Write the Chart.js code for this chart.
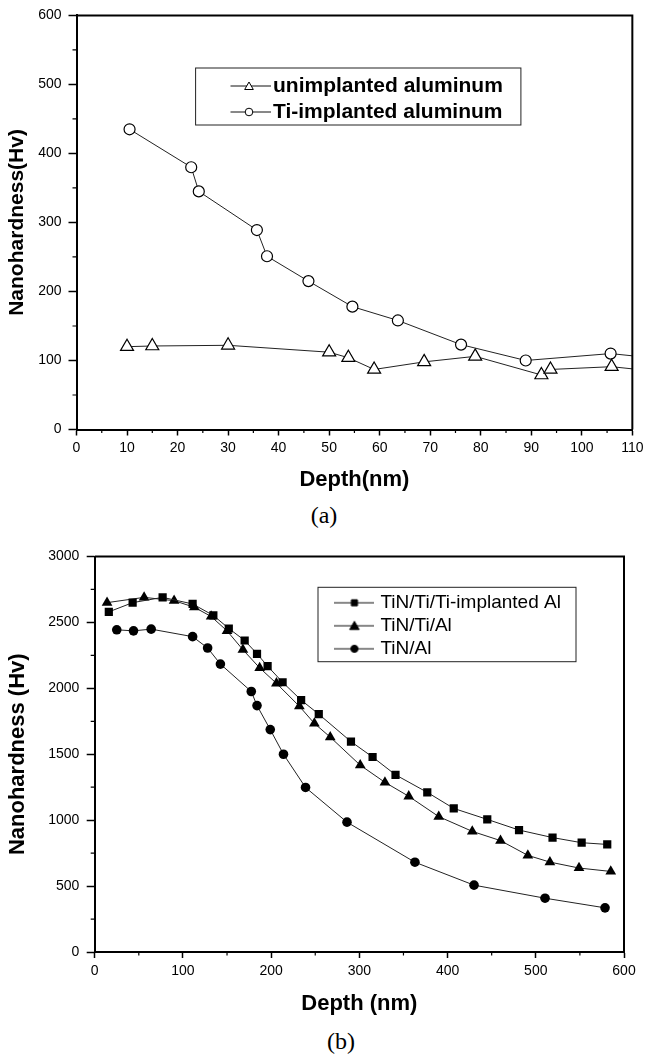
<!DOCTYPE html>
<html>
<head>
<meta charset="utf-8">
<script src="https://cdn.jsdelivr.net/npm/chart.js@4.4.1/dist/chart.umd.min.js"></script>
<style>
  body { margin: 0; background: #fff; width: 648px; height: 1057px; overflow: hidden; position: relative; }
  canvas { position: absolute; left: 0; }
  #chartA { top: 0; }
  #chartB { top: 540px; }
  .cap { position: absolute; left: 0; width: 648px; text-align: center; font: 24px "Liberation Serif", "Times New Roman", serif; line-height: 24px; color: #000; }
</style>
</head>
<body>
<canvas id="chartA" width="648" height="500"></canvas>
<div class="cap" style="top:503px; padding-left:20px; box-sizing:border-box; width:628px;">(a)</div>
<canvas id="chartB" width="648" height="480"></canvas>
<div class="cap" style="top:1029px; padding-left:34px; box-sizing:border-box; width:648px;">(b)</div>
<script>
// (a) unimplanted vs Ti-implanted aluminium
const depthUnimpl = [10, 15, 30, 50, 53.8, 58.9, 68.8, 78.9, 92, 93.8, 105.9, 115];
const hvUnimpl = [120, 121, 122, 112, 104, 87, 98, 106, 79, 87, 91, 84];
const depthTiImpl = [10.5, 22.7, 24.2, 35.7, 37.7, 45.9, 54.6, 63.6, 76.1, 88.9, 105.7, 115];
const hvTiImpl = [435, 380, 345, 289, 251, 215, 178, 158, 123, 100, 110, 103];
const labelsA = ["unimplanted aluminum", "Ti-implanted aluminum"];

// (b) TiN coatings
const depthTiNTiImpl = [16, 43, 77, 111, 134.5, 152, 170, 184, 196, 213, 234, 254, 290.5, 315, 341, 377, 407, 445, 481, 519, 552, 581];
const hvTiNTiImpl = [2580, 2650, 2690, 2640, 2553, 2454, 2363, 2262, 2168, 2046, 1911, 1804, 1596, 1479, 1344, 1211, 1089, 1006, 925, 868, 829, 816];
const depthTiNTi = [14, 56, 90, 113, 132, 150, 168, 187, 206, 232, 249, 267, 301, 329, 356, 390, 428, 460, 491, 516, 549, 585];
const hvTiNTi = [2650, 2690, 2665, 2615, 2545, 2436, 2293, 2155, 2038, 1864, 1734, 1630, 1417, 1287, 1181, 1027, 915, 845, 733, 682, 637, 611];
const depthTiN = [25, 44, 64, 111, 128, 142.5, 177.5, 184, 199, 214, 239, 286, 363, 430, 510.5, 578.5];
const hvTiN = [2444, 2436, 2449, 2392, 2306, 2184, 1976, 1869, 1687, 1500, 1248, 985, 681, 507, 408, 335];
const labelsB = ["TiN/Ti/Ti-implanted Al", "TiN/Ti/Al", "TiN/Al"];

Chart.defaults.font.family = "'Liberation Sans', Arial, sans-serif";
Chart.defaults.color = "#000";

const pts = (xs, ys) => xs.map((x, i) => ({ x: x, y: ys[i] }));

// line + marker picture for the legend
function legendIcon(style, radius, filled, width) {
  const c = document.createElement("canvas");
  c.width = width;
  c.height = 16;
  const g = c.getContext("2d");
  g.strokeStyle = "#111";
  g.lineWidth = 1;
  g.beginPath();
  g.moveTo(0, 8);
  g.lineTo(width, 8);
  g.stroke();
  g.fillStyle = filled ? "#000" : "#fff";
  g.strokeStyle = "#000";
  Chart.helpers.drawPoint(g, { pointStyle: style, radius: radius, borderWidth: 1, rotation: 0 }, width / 2, style === "triangle" ? 9 : 8);
  return c;
}

// top and right sides of the frame
const frame = {
  id: "frame",
  afterDraw(chart) {
    const { ctx, chartArea: a } = chart;
    ctx.save();
    ctx.strokeStyle = "#000";
    ctx.lineWidth = 2;
    ctx.beginPath();
    ctx.moveTo(a.left, a.top);
    ctx.lineTo(a.right, a.top);
    ctx.lineTo(a.right, a.bottom);
    ctx.stroke();
    ctx.restore();
  }
};

// half-step ticks
const minorTicks = {
  id: "minorTicks",
  afterDraw(chart, args, opts) {
    const { ctx } = chart;
    const x = chart.scales.x, y = chart.scales.y;
    ctx.save();
    ctx.strokeStyle = "#000";
    ctx.lineWidth = 1.2;
    ctx.beginPath();
    for (let v = x.min + opts.x / 2; v < x.max; v += opts.x) {
      const px = x.getPixelForValue(v);
      ctx.moveTo(px, x.top);
      ctx.lineTo(px, x.top + 3.5);
    }
    for (let v = y.min + opts.y / 2; v < y.max; v += opts.y) {
      const py = y.getPixelForValue(v);
      ctx.moveTo(y.right, py);
      ctx.lineTo(y.right - 4, py);
    }
    ctx.stroke();
    ctx.restore();
  }
};

// move the legend inside the plot and draw a box round it
const legendBox = {
  id: "legendBox",
  afterLayout(chart, args, opts) {
    const lg = chart.legend;
    const w = lg.width, h = lg.height;
    lg.left = opts.left;
    lg.top = opts.top;
    lg.right = opts.left + w;
    lg.bottom = opts.top + h;
  },
  afterDraw(chart, args, opts) {
    const { ctx } = chart;
    const b = opts.box;
    ctx.save();
    ctx.strokeStyle = "#222";
    ctx.lineWidth = 1;
    ctx.strokeRect(b[0], b[1], b[2], b[3]);
    ctx.restore();
  }
};

function axis(min, max, step, title, titleSize, tickLen, tickPad, titlePad, fit) {
  return {
    type: "linear",
    min: min,
    max: max,
    border: { color: "#000", width: 2 },
    grid: { drawOnChartArea: false, tickLength: tickLen, tickColor: "#000", tickWidth: 1.5 },
    ticks: {
      stepSize: step, color: "#000", font: { size: 14 }, padding: tickPad,
      maxRotation: 0, autoSkip: false, callback: v => String(v)
    },
    title: { display: true, text: title, color: "#000", font: { size: titleSize, weight: "bold" }, padding: titlePad },
    afterFit: fit
  };
}

const iconsA = [legendIcon("triangle", 5, false, 44), legendIcon("circle", 3.8, false, 44)];

new Chart(document.getElementById("chartA"), {
  type: "line",
  data: {
    datasets: [
      {
        label: labelsA[0],
        data: pts(depthUnimpl, hvUnimpl),
        borderColor: "#222",
        borderWidth: 1,
        pointStyle: "triangle",
        pointRadius: 7.5,
        pointBackgroundColor: "#fff",
        pointBorderColor: "#000",
        pointBorderWidth: 1.2
      },
      {
        label: labelsA[1],
        data: pts(depthTiImpl, hvTiImpl),
        borderColor: "#222",
        borderWidth: 1,
        pointStyle: "circle",
        pointRadius: 5.5,
        pointBackgroundColor: "#fff",
        pointBorderColor: "#000",
        pointBorderWidth: 1.2
      }
    ]
  },
  options: {
    responsive: false,
    animation: false,
    layout: { padding: { left: 0, right: 11.3, top: 14, bottom: 0 } },
    scales: {
      x: axis(0, 110, 10, "Depth(nm)", 22, 6, 4.5, { top: 4, bottom: 7 }, s => { s.height = 70.5; }),
      y: axis(0, 600, 100, "Nanohardness(Hv)", 21, 8, 7, { top: 5, bottom: 4 }, s => { s.width = 76.5; })
    },
    plugins: {
      tooltip: { enabled: false },
      legend: {
        position: "chartArea",
        align: "start",
        labels: {
          usePointStyle: true,
          pointStyleWidth: 27,
          padding: 5,
          color: "#000",
          font: { size: 21, weight: "bold" },
          generateLabels: chart => chart.data.datasets.map((ds, i) => ({
            text: ds.label, pointStyle: iconsA[i], datasetIndex: i, hidden: false,
            fillStyle: "#000", strokeStyle: "#000", lineWidth: 0, fontColor: "#000"
          }))
        }
      },
      minorTicks: { x: 10, y: 100 },
      legendBox: { left: 230.5, top: 70.5, box: [195.6, 68, 325.3, 57] }
    }
  },
  plugins: [frame, minorTicks, legendBox]
});

const iconsB = [legendIcon("rect", 4.3, true, 40), legendIcon("triangle", 5.5, true, 40), legendIcon("circle", 3.6, true, 40)];

new Chart(document.getElementById("chartB"), {
  type: "line",
  data: {
    datasets: [
      {
        label: labelsB[0],
        data: pts(depthTiNTiImpl, hvTiNTiImpl),
        borderColor: "#222",
        borderWidth: 1,
        pointStyle: "rect",
        pointRadius: 5.8,
        pointBackgroundColor: "#000",
        pointBorderColor: "#000",
        pointBorderWidth: 0
      },
      {
        label: labelsB[1],
        data: pts(depthTiNTi, hvTiNTi),
        borderColor: "#222",
        borderWidth: 1,
        pointStyle: "triangle",
        pointRadius: 6.2,
        pointBackgroundColor: "#000",
        pointBorderColor: "#000",
        pointBorderWidth: 0
      },
      {
        label: labelsB[2],
        data: pts(depthTiN, hvTiN),
        borderColor: "#222",
        borderWidth: 1,
        pointStyle: "circle",
        pointRadius: 4.8,
        pointBackgroundColor: "#000",
        pointBorderColor: "#000",
        pointBorderWidth: 0
      }
    ]
  },
  options: {
    responsive: false,
    animation: false,
    layout: { padding: { left: 0, right: 24, top: 16.5, bottom: 0 } },
    scales: {
      x: axis(0, 600, 100, "Depth (nm)", 22, 6, 4.6, { top: 4, bottom: 3 }, s => { s.height = 68; }),
      y: axis(0, 3000, 500, "Nanohardness (Hv)", 22, 8, 7.4, { top: 4.8, bottom: 4 }, s => { s.width = 94.7; })
    },
    plugins: {
      tooltip: { enabled: false },
      legend: {
        position: "chartArea",
        align: "start",
        labels: {
          usePointStyle: true,
          pointStyleWidth: 33,
          padding: 4,
          color: "#000",
          font: { size: 19 },
          generateLabels: chart => chart.data.datasets.map((ds, i) => ({
            text: ds.label, pointStyle: iconsB[i], datasetIndex: i, hidden: false,
            fillStyle: "#000", strokeStyle: "#000", lineWidth: 0, fontColor: "#000"
          }))
        }
      },
      minorTicks: { x: 100, y: 500 },
      legendBox: { left: 333.9, top: 49.3, box: [318, 47.3, 258, 74.4] }
    }
  },
  plugins: [frame, minorTicks, legendBox]
});
</script>
</body>
</html>
